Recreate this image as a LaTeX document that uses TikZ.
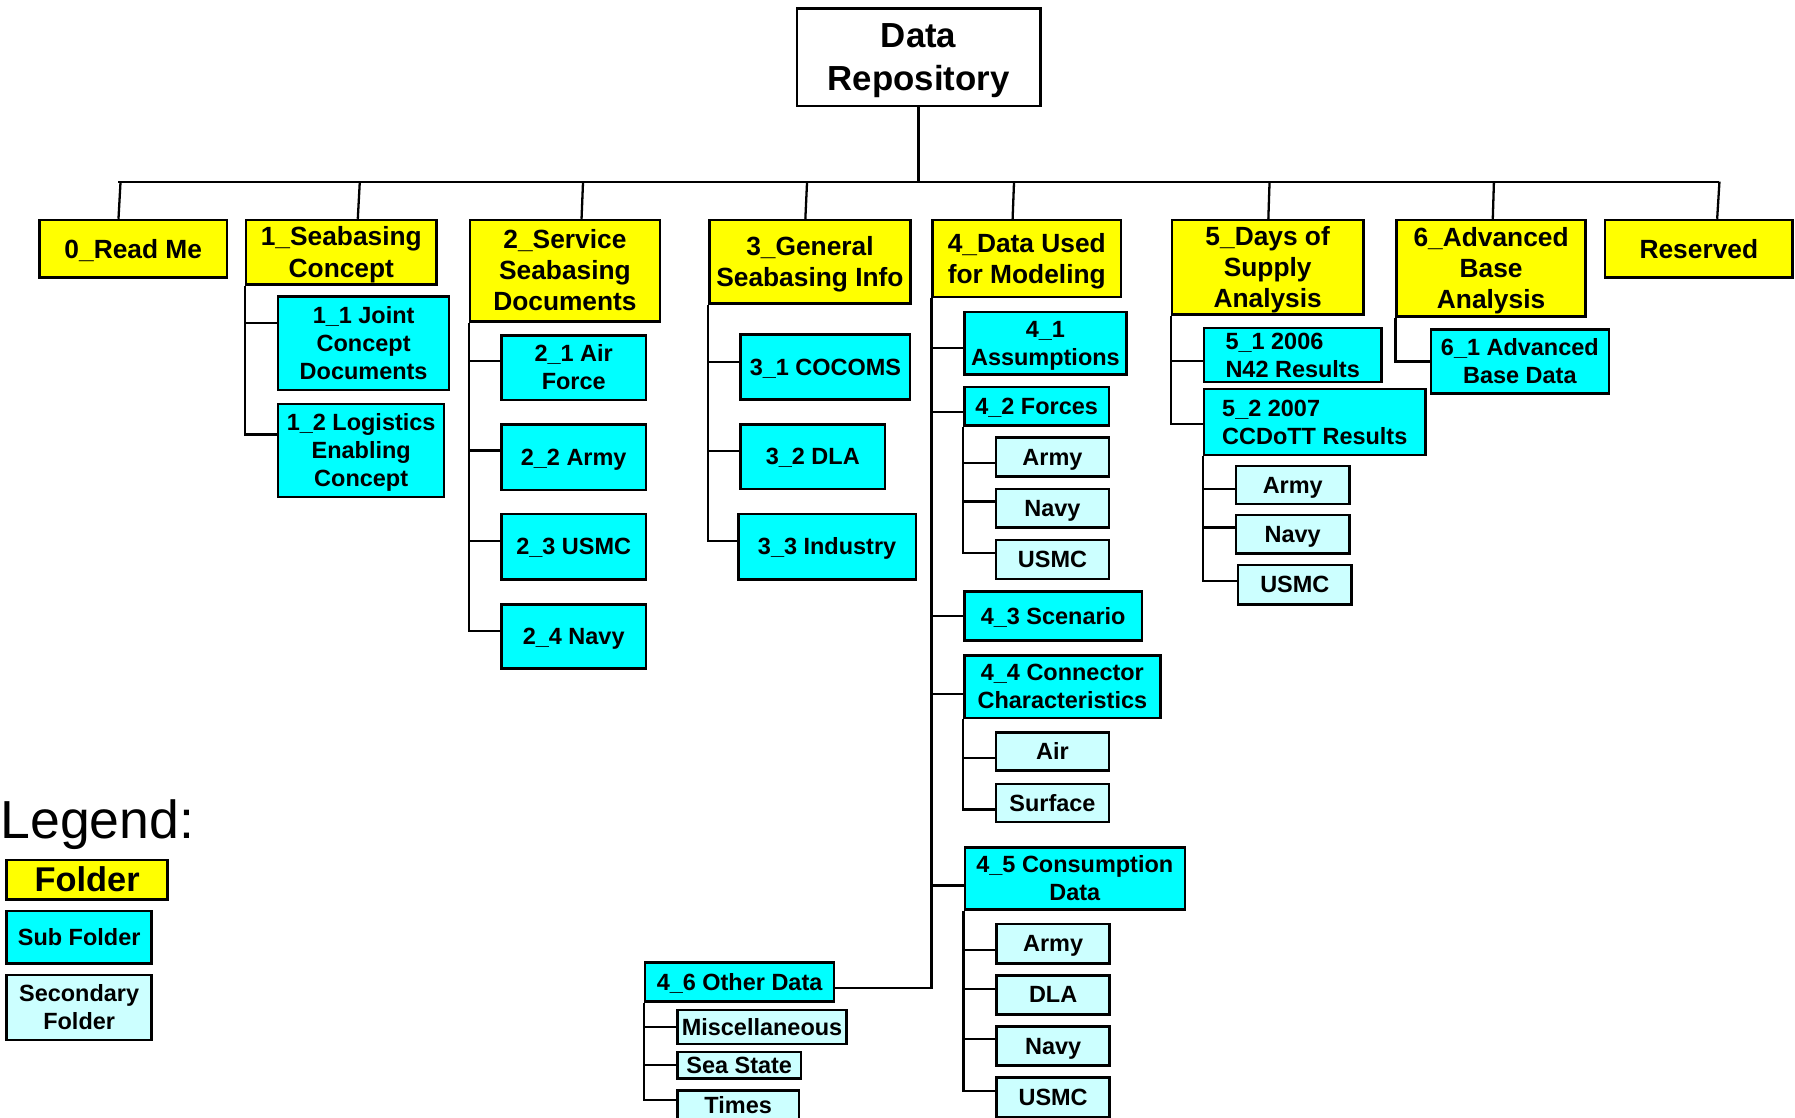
\documentclass[tikz,border=0pt]{standalone}
\usepackage{fontspec}
\setmainfont{Liberation Sans}
\definecolor{fy}{HTML}{FFFF00}
\definecolor{fc}{HTML}{00FFFF}
\definecolor{fl}{HTML}{CCFFFF}
\tikzset{
  base/.style={draw=black, line width=1.1pt, inner sep=0pt, align=center},
  rootbox/.style={base, fill=white, font=\bfseries\fontsize{15.2}{18.7}\selectfont},
  foldbox/.style={base, fill=fy, font=\bfseries\fontsize{11.5}{13.6}\selectfont},
  subbox/.style={base, fill=fc, font=\bfseries\fontsize{10.25}{12.25}\selectfont},
  secbox/.style={base, fill=fl, font=\bfseries\fontsize{10.25}{12.25}\selectfont},
  legfold/.style={base, fill=fy, font=\bfseries\fontsize{15}{18}\selectfont},
  conn/.style={line width=1pt},
}
\newcommand{\tstrut}{\rule[-0.212em]{0pt}{1.117em}}
\newcommand{\mkbox}[7]{\node[#1, minimum width={((#5)-(#3))*0.5pt}, minimum height={((#6)-(#4))*0.5pt}] (#2) at ({((#3)+(#5))/2},{((#4)+(#6))/2}) {\tstrut#7\tstrut};}
\newcommand{\brn}[3]{\draw[conn] (#1.south west) |- ([yshift=#3*0.5pt]#2.west);}
\begin{document}
\begin{tikzpicture}[x=0.5pt,y=-0.5pt]
\useasboundingbox (0,0) rectangle (1568,976);
% root and folders
\mkbox{rootbox}{root}{696.2}{7.3}{908.7}{92.6}{Data\\Repository}
\mkbox{foldbox}{n0}{34.3}{192.2}{198.5}{242.6}{0\_Read Me}
\mkbox{foldbox}{n1}{214.9}{192.2}{381.4}{248.7}{1\_Seabasing\\Concept}
\mkbox{foldbox}{n2}{410.6}{192.2}{576.4}{280.7}{2\_Service\\Seabasing\\Documents}
\mkbox{foldbox}{n3}{619.8}{192.2}{795.2}{265.3}{3\_General\\Seabasing Info}
\mkbox{foldbox}{n4}{814.7}{192.2}{979.2}{259.4}{4\_Data Used\\for Modeling}
\mkbox{foldbox}{n5}{1023.7}{192.2}{1191}{274.6}{5\_Days of\\Supply\\Analysis}
\mkbox{foldbox}{n6}{1220}{192.2}{1385}{276.6}{6\_Advanced\\Base\\Analysis}
\mkbox{foldbox}{nr}{1402}{192.2}{1566}{242.6}{Reserved}
% sub folders
\mkbox{subbox}{s11}{243}{259}{392.3}{340.7}{1\_1 Joint\\Concept\\Documents}
\mkbox{subbox}{s12}{243}{353}{388}{434}{1\_2 Logistics\\Enabling\\Concept}
\mkbox{subbox}{s21}{438}{293}{564.3}{349.4}{2\_1 Air\\Force}
\mkbox{subbox}{s22}{438}{371}{564.3}{428}{2\_2 Army}
\mkbox{subbox}{s23}{438}{449}{564.3}{506}{2\_3 USMC}
\mkbox{subbox}{s24}{438}{528}{564.3}{584}{2\_4 Navy}
\mkbox{subbox}{s31}{647}{292}{795}{349}{3\_1 COCOMS}
\mkbox{subbox}{s32}{647}{371}{773}{427}{3\_2 DLA}
\mkbox{subbox}{s33}{645}{449}{800}{506}{3\_3 Industry}
\mkbox{subbox}{s41}{842.4}{272.5}{984}{327}{4\_1\\Assumptions}
\mkbox{subbox}{s42}{842.4}{338}{968.7}{371.5}{4\_2 Forces}
\mkbox{secbox}{t42a}{870}{382}{968.7}{416.4}{Army}
\mkbox{secbox}{t42n}{870}{427}{968.7}{461}{Navy}
\mkbox{secbox}{t42u}{870}{471.7}{968.7}{505.8}{USMC}
\mkbox{subbox}{s43}{842.4}{516.8}{997.6}{559.7}{4\_3 Scenario}
\mkbox{subbox}{s44}{842.4}{572.8}{1013.6}{627}{4\_4 Connector\\Characteristics}
\mkbox{secbox}{t44a}{870}{640}{968.7}{673}{Air}
\mkbox{secbox}{t44s}{870}{685}{968.7}{718}{Surface}
\mkbox{subbox}{s45}{842.8}{740.5}{1035}{794.3}{4\_5 Consumption\\Data}
\mkbox{secbox}{t45a}{870.6}{807.1}{969.3}{841.5}{Army}
\mkbox{secbox}{t45d}{870.6}{852}{969.3}{886}{DLA}
\mkbox{secbox}{t45n}{870.6}{896.8}{969.3}{930.9}{Navy}
\mkbox{secbox}{t45u}{870.6}{941.4}{969.3}{976}{USMC}
\mkbox{subbox}{s46}{563.6}{840.9}{728.5}{875}{4\_6 Other Data}
\mkbox{secbox}{t46m}{591.7}{882.3}{739.6}{912}{Miscellaneous}
\mkbox{secbox}{t46s}{591.7}{919.2}{699.7}{941.9}{Sea State}
\mkbox{secbox}{t46t}{591.7}{952.7}{697.9}{978}{Times}
\mkbox{subbox, align=left}{s51}{1051.7}{287.7}{1206.7}{332.5}{5\_1 2006\\N42 Results}
\mkbox{subbox, align=left}{s52}{1051.7}{339.8}{1245.3}{397.5}{5\_2 2007\\CCDoTT Results}
\mkbox{secbox}{t52a}{1079.6}{407}{1178.9}{440.3}{Army}
\mkbox{secbox}{t52n}{1079.6}{450}{1178.9}{483.4}{Navy}
\mkbox{secbox}{t52u}{1081.4}{493.5}{1180.7}{527.9}{USMC}
\mkbox{subbox}{s61}{1250}{287.7}{1405.3}{343.6}{6\_1 Advanced\\Base Data}
% legend
\node[anchor=base west, inner sep=0pt, font=\fontsize{23.4}{28}\selectfont] (leg) at (0,732.3) {Legend:};
\mkbox{legfold}{lf}{5.8}{751.2}{146.5}{785.6}{Folder}
\mkbox{subbox}{ls}{5.8}{795.8}{132.5}{841.5}{Sub Folder}
\mkbox{secbox}{ll}{5.8}{851.7}{132.5}{908.5}{Secondary\\Folder}
% bus
\coordinate (busL) at (103.3,158.7);
\coordinate (busR) at (1502,158.7);
\coordinate (b0) at (105.3,158.7);
\coordinate (b1) at (314.3,158.7);
\coordinate (b2) at (509.3,158.7);
\coordinate (b3) at (705,158.7);
\coordinate (b4) at (885.8,158.7);
\coordinate (b5) at (1109,158.7);
\coordinate (b6) at (1305,158.7);
\coordinate (br) at (1502,158.7);
\draw[conn] (busL) -- (busR);
\draw[conn] (root.south) -- (root.south |- busL);
\draw[conn] ([xshift=-6.45pt]n0.north) -- (b0);
\draw[conn] ([xshift=7.2pt]n1.north) -- (b1);
\draw[conn] ([xshift=7.25pt]n2.north) -- (b2);
\draw[conn] ([xshift=-2pt]n3.north) -- (b3);
\draw[conn] ([xshift=-6.2pt]n4.north) -- (b4);
\draw[conn] ([xshift=0.3pt]n5.north) -- (b5);
\draw[conn] ([xshift=0.75pt]n6.north) -- (b6);
\draw[conn] ([xshift=8pt]nr.north) -- (br);
% branches
\brn{n1}{s11}{18}
\brn{n1}{s12}{14}
\brn{n2}{s21}{5.6}
\brn{n2}{s22}{6}
\brn{n2}{s23}{5}
\brn{n2}{s24}{5}
\brn{n3}{s31}{4}
\brn{n3}{s32}{5}
\brn{n3}{s33}{5}
\brn{n4}{s41}{-4}
\brn{n4}{s42}{-5}
\brn{n4}{s43}{0}
\brn{n4}{s44}{-6.5}
\brn{n4}{s45}{-6}
\draw[conn] (n4.south west) |- ([yshift=-2.5pt]s46.east);
\brn{s42}{t42a}{-5.5}
\brn{s42}{t42n}{6}
\brn{s42}{t42u}{6}
\brn{s44}{t44a}{-5.5}
\brn{s44}{t44s}{-5.5}
\brn{s45}{t45a}{-5.5}
\brn{s45}{t45d}{5}
\brn{s45}{t45n}{6}
\brn{s45}{t45u}{6}
\brn{s46}{t46m}{0}
\brn{s46}{t46s}{0}
\brn{s46}{t46t}{4.5}
\brn{n5}{s51}{-5}
\brn{n5}{s52}{-2}
\brn{s52}{t52a}{-3.5}
\brn{s52}{t52n}{6}
\brn{s52}{t52u}{3}
\brn{n6}{s61}{0}
\end{tikzpicture}
\end{document}
